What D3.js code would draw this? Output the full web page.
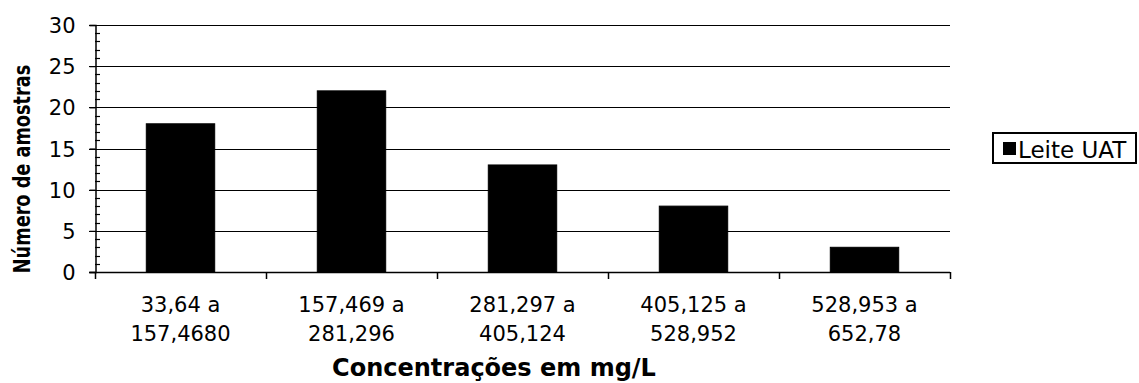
<!DOCTYPE html>
<html>
<head>
<meta charset="utf-8">
<script src="https://cdn.jsdelivr.net/npm/d3@7"></script>
<style>
  html, body { margin: 0; padding: 0; background: #fff; }
  svg { display: block; }
  text { font-family: "DejaVu Sans", sans-serif; fill: #000; }
</style>
</head>
<body>
<svg id="chart" width="1139" height="383"></svg>
<script>
// Faixas de concentração (duas linhas por rótulo)
const categories = [
  ["33,64 a", "157,4680"],
  ["157,469 a", "281,296"],
  ["281,297 a", "405,124"],
  ["405,125 a", "528,952"],
  ["528,953 a", "652,78"]
];
// Número de amostras de leite UAT em cada faixa
const values = [18, 22, 13, 8, 3];
const yTicks = [0, 5, 10, 15, 20, 25, 30];
const seriesName = "Leite UAT";

const svg = d3.select("#chart");
const plotLeft = 95, plotRight = 950, plotTop = 25, plotBottom = 272;

const keys = categories.map((c, i) => i);
const x = d3.scaleBand()
  .domain(keys)
  .range([plotLeft, plotRight])
  .paddingInner(0.6)
  .paddingOuter(0.3);

const y = d3.scaleLinear().domain([0, 30]).range([plotBottom, plotTop]);

// Linhas de grade horizontais
svg.append("g")
  .selectAll("line")
  .data(yTicks.filter(d => d > 0))
  .join("line")
  .attr("x1", plotLeft - 6).attr("x2", plotRight)
  .attr("y1", d => Math.round(y(d)) + 0.5)
  .attr("y2", d => Math.round(y(d)) + 0.5)
  .attr("stroke", "#000").attr("stroke-width", 1.2);

// Barras
svg.append("g")
  .selectAll("rect")
  .data(values)
  .join("rect")
  .attr("x", (d, i) => x(i))
  .attr("width", x.bandwidth())
  .attr("y", d => y(d))
  .attr("height", d => y(0) - y(d))
  .attr("fill", "#000")
  .attr("stroke", "#000");

// Eixo Y: marcas principais para fora, secundárias para dentro
const yAxisMajor = d3.axisLeft(y).tickValues(yTicks).tickSize(6).tickFormat(d => d).tickPadding(14);
const gy = svg.append("g").attr("transform", `translate(${plotLeft + 0.5},0)`).call(yAxisMajor);
gy.select(".domain").attr("stroke", "#000").attr("stroke-width", 1.5);
gy.selectAll(".tick line").attr("stroke", "#000").attr("stroke-width", 1.2);
gy.selectAll(".tick text")
  .attr("font-size", 21)
  .attr("font-family", "DejaVu Sans, sans-serif")
  .attr("fill", "#111")
  .attr("dy", "0.36em");

const minor = d3.range(0, 31).filter(v => v % 5 !== 0);
svg.append("g")
  .selectAll("line")
  .data(minor)
  .join("line")
  .attr("x1", plotLeft).attr("x2", plotLeft + 5)
  .attr("y1", d => Math.round(y(d)) + 0.5)
  .attr("y2", d => Math.round(y(d)) + 0.5)
  .attr("stroke", "#000").attr("stroke-width", 1.2);

// Eixo X com marcas nos limites de cada faixa
const step = x.step();
const bounds = d3.range(0, categories.length + 1).map(i => plotLeft + i * step);
svg.append("line")
  .attr("x1", plotLeft - 6).attr("x2", plotRight)
  .attr("y1", plotBottom + 0.5).attr("y2", plotBottom + 0.5)
  .attr("stroke", "#000").attr("stroke-width", 1.5);
svg.append("g")
  .selectAll("line")
  .data(bounds)
  .join("line")
  .attr("x1", d => Math.round(d) + 0.5).attr("x2", d => Math.round(d) + 0.5)
  .attr("y1", plotBottom).attr("y2", plotBottom + 7)
  .attr("stroke", "#000").attr("stroke-width", 1.5);

// Rótulos das faixas
const labels = svg.append("g")
  .selectAll("text")
  .data(categories)
  .join("text")
  .attr("text-anchor", "middle")
  .attr("font-size", 21)
  .attr("fill", "#111");
labels.append("tspan")
  .attr("x", (d, i) => x(i) + x.bandwidth() / 2)
  .attr("y", 312)
  .text(d => d[0]);
labels.append("tspan")
  .attr("x", (d, i) => x(i) + x.bandwidth() / 2)
  .attr("y", 341)
  .text(d => d[1]);

// Títulos dos eixos
svg.append("text")
  .attr("x", 494).attr("y", 376)
  .attr("text-anchor", "middle")
  .attr("font-size", 24)
  .attr("font-weight", "bold")
  .text("Concentrações em mg/L");

svg.append("text")
  .attr("transform", "translate(30,169) scale(1.3,1) rotate(-90)")
  .attr("text-anchor", "middle")
  .attr("font-size", 17.7)
  .attr("font-weight", "bold")
  .text("Número de amostras");

// Legenda
const lg = svg.append("g");
lg.append("rect")
  .attr("x", 993).attr("y", 133)
  .attr("width", 143).attr("height", 30)
  .attr("fill", "#fff").attr("stroke", "#000").attr("stroke-width", 2);
lg.append("rect")
  .attr("x", 1003).attr("y", 142)
  .attr("width", 13).attr("height", 13)
  .attr("fill", "#000");
lg.append("text")
  .attr("x", 1018).attr("y", 158)
  .attr("font-size", 23)
  .attr("fill", "#111")
  .text(seriesName);
</script>
</body>
</html>
